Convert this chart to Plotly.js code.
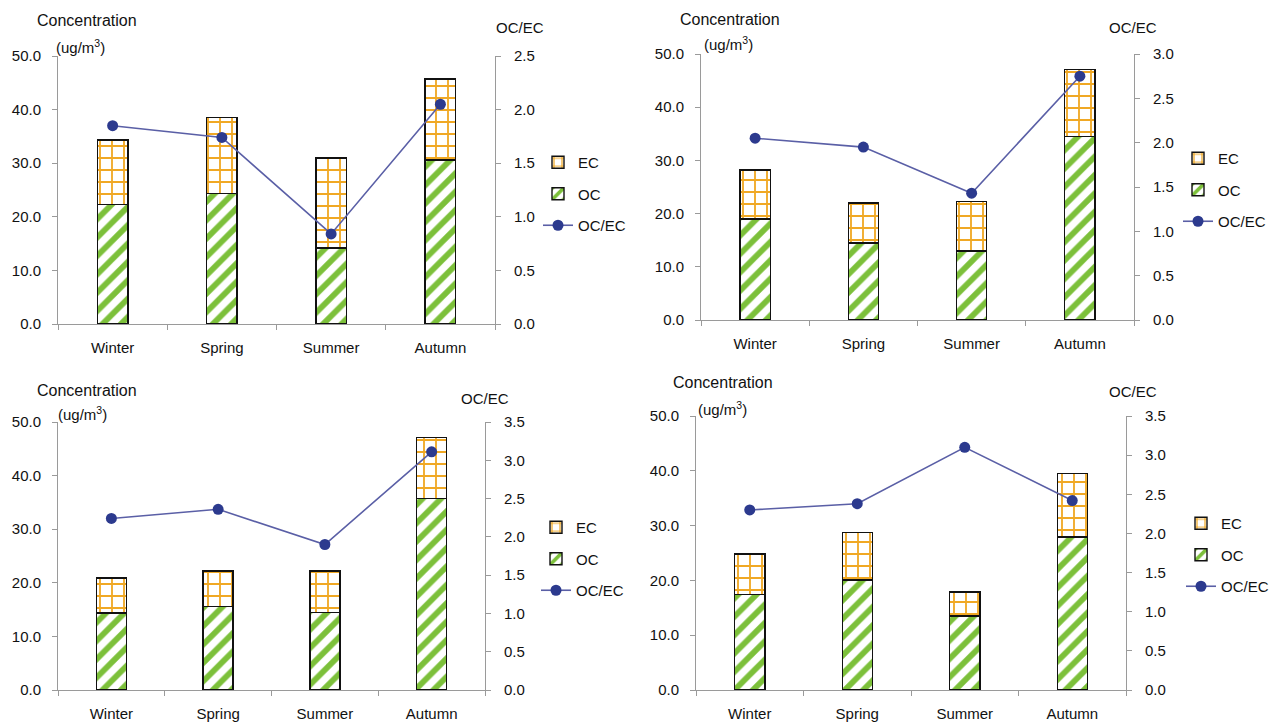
<!DOCTYPE html>
<html>
<head>
<meta charset="utf-8">
<script src="https://cdn.plot.ly/plotly-3.0.1.min.js"></script>
<style>html,body{margin:0;padding:0;background:#fff;}#chart{width:1285px;height:723px;}</style>
</head>
<body>
<div id="chart"></div>
<script>
// ---- data ----
const seasons = ["Winter", "Spring", "Summer", "Autumn"];

const ocA = [22.3, 24.4, 14.2, 30.6];
const ecA = [12.0, 14.1, 16.8, 15.1];
const ratioA = [1.85, 1.74, 0.84, 2.05];

const ocB = [19.0, 14.5, 13.0, 34.5];
const ecB = [9.2, 7.5, 9.3, 12.6];
const ratioB = [2.05, 1.95, 1.43, 2.75];

const ocC = [14.4, 15.6, 14.5, 35.7];
const ecC = [6.5, 6.6, 7.7, 11.4];
const ratioC = [2.24, 2.36, 1.90, 3.11];

const ocD = [17.4, 20.1, 13.5, 27.9];
const ecD = [7.4, 8.6, 4.4, 11.6];
const ratioD = [2.30, 2.38, 3.10, 2.42];

const ratioMax = [2.5, 3.0, 3.5, 3.5];

// ---- styling / layout ----
const FONT = "Liberation Sans, Arial, sans-serif";
const GREEN = "#7cc03a";
const ORANGE = "#f0a824";
const LINE = "#5a5fa6";
const DOT = "#2c3a8e";
const AXC = "#9a9a9a";

const W = 1285, H = 723;
const px = v => v / W;
const py = v => 1 - v / H;

// panel boxes in pixels: [left, right, top, bottom]
const boxes = [
  [58, 495, 56, 324],
  [701, 1134, 54, 320],
  [58, 485, 422, 690],
  [696, 1126, 416, 690]
];
const legendPos = [[538, 146], [1178, 142], [536, 511], [1181, 507]];
const titlePos = [
  {c: [87, 20], u: [80, 46], r: [520, 28]},
  {c: [730, 19], u: [728, 43], r: [1133, 28]},
  {c: [87, 390], u: [82, 413], r: [485, 398]},
  {c: [723, 382], u: [722, 408], r: [1133, 391]}
];

const panels = [
  {oc: ocA, ec: ecA, ratio: ratioA},
  {oc: ocB, ec: ecB, ratio: ratioB},
  {oc: ocC, ec: ecC, ratio: ratioC},
  {oc: ocD, ec: ecD, ratio: ratioD}
];

const traces = [];
const layout = {
  width: W, height: H,
  margin: {l: 0, r: 0, t: 0, b: 0},
  paper_bgcolor: "#fff", plot_bgcolor: "rgba(0,0,0,0)",
  barmode: "stack", bargap: 0.72,
  font: {family: FONT, size: 15, color: "#111"},
  showlegend: true,
  annotations: []
};

panels.forEach((p, i) => {
  const n = i + 1;
  const xa = n === 1 ? "x" : "x" + n;
  const ya = n === 1 ? "y" : "y" + n;
  const yr = "y" + (n + 4);
  const lg = n === 1 ? "legend" : "legend" + n;
  const [l, r, t, b] = boxes[i];

  traces.push({
    type: "bar", x: seasons, y: p.oc, name: "OC", xaxis: xa, yaxis: ya,
    legend: lg, legendrank: 2, legendgroup: "oc" + n,
    marker: {color: "#fff", line: {color: "#111", width: 1.4},
      pattern: {shape: "/", fgcolor: GREEN, bgcolor: "#fff", fgopacity: 1, size: 13, solidity: 0.45, fillmode: "overlay"}},
    hoverinfo: "skip"
  });
  traces.push({
    type: "bar", x: seasons, y: p.ec, name: "EC", xaxis: xa, yaxis: ya,
    legend: lg, legendrank: 1, legendgroup: "ec" + n,
    marker: {color: "#fff", line: {color: "#111", width: 1.4},
      pattern: {shape: "+", fgcolor: ORANGE, bgcolor: "#fff", fgopacity: 1, size: 12, solidity: 0.28, fillmode: "overlay"}},
    hoverinfo: "skip"
  });
  traces.push({
    type: "scatter", mode: "lines+markers", x: seasons, y: p.ratio, name: "OC/EC",
    xaxis: xa, yaxis: yr, legend: lg, legendrank: 3, legendgroup: "r" + n,
    line: {color: LINE, width: 1.6},
    marker: {color: DOT, size: 11},
    hoverinfo: "skip"
  });

  const dom = [px(l), px(r)];
  layout[n === 1 ? "xaxis" : "xaxis" + n] = {
    domain: dom, anchor: ya, type: "category", range: [-0.5, 3.5],
    showline: true, linecolor: AXC, linewidth: 1,
    ticks: "outside", tickson: "boundaries", ticklen: 5, tickcolor: AXC, ticklabelstandoff: 10,
    tickfont: {family: FONT, size: 15, color: "#111"},
    showgrid: false, zeroline: false, fixedrange: true
  };
  layout[n === 1 ? "yaxis" : "yaxis" + n] = {
    domain: [py(b), py(t)], anchor: xa, range: [0, 50], dtick: 10, tickformat: ".1f",
    showline: true, linecolor: AXC, linewidth: 1,
    ticks: "outside", ticklen: 5, tickcolor: AXC, ticklabelstandoff: 8,
    tickfont: {family: FONT, size: 15, color: "#111"},
    showgrid: false, zeroline: false, fixedrange: true
  };
  layout["yaxis" + (n + 4)] = {
    overlaying: ya, side: "right", anchor: xa, range: [0, ratioMax[i]], dtick: 0.5, tickformat: ".1f",
    showline: true, linecolor: AXC, linewidth: 1,
    ticks: "outside", ticklen: 5, tickcolor: AXC, ticklabelstandoff: 10,
    tickfont: {family: FONT, size: 15, color: "#111"},
    showgrid: false, zeroline: false, fixedrange: true
  };
  layout[lg] = {
    x: px(legendPos[i][0]), y: py(legendPos[i][1]), xanchor: "left", yanchor: "top",
    bgcolor: "rgba(0,0,0,0)", borderwidth: 0, traceorder: "grouped",
    tracegroupgap: 9, itemwidth: 30,
    font: {family: FONT, size: 15, color: "#111"}
  };

  const tp = titlePos[i];
  layout.annotations.push(
    {text: "Concentration", x: px(tp.c[0]), y: py(tp.c[1]), xref: "paper", yref: "paper",
     xanchor: "center", yanchor: "middle", showarrow: false, font: {family: FONT, size: 16, color: "#111"}},
    {text: "(ug/m<sup>3</sup>)", x: px(tp.u[0]), y: py(tp.u[1]), xref: "paper", yref: "paper",
     xanchor: "center", yanchor: "middle", showarrow: false, font: {family: FONT, size: 15, color: "#111"}},
    {text: "OC/EC", x: px(tp.r[0]), y: py(tp.r[1]), xref: "paper", yref: "paper",
     xanchor: "center", yanchor: "middle", showarrow: false, font: {family: FONT, size: 15, color: "#111"}}
  );
});

Plotly.newPlot("chart", traces, layout, {displayModeBar: false, staticPlot: true});
</script>
</body>
</html>
